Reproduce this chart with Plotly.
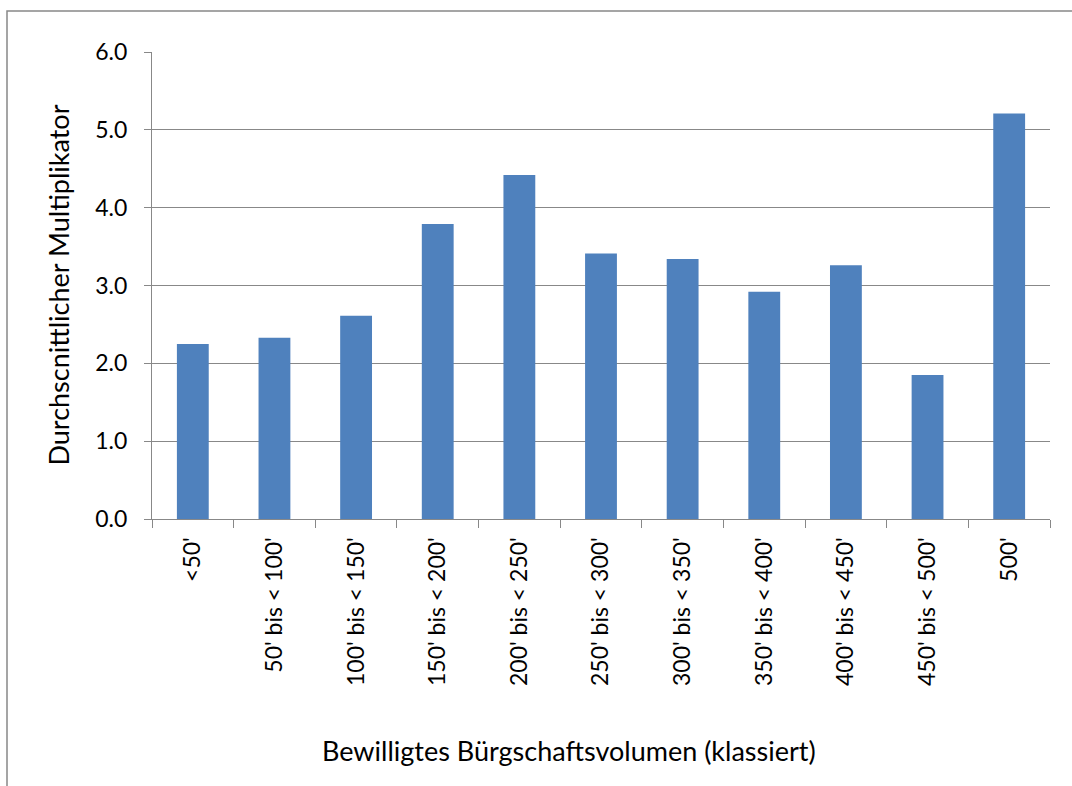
import plotly.graph_objects as go

categories = ["<50'", "50' bis < 100'", "100' bis < 150'", "150' bis < 200'", "200' bis < 250'",
              "250' bis < 300'", "300' bis < 350'", "350' bis < 400'", "400' bis < 450'",
              "450' bis < 500'", "500'"]
values = [2.25, 2.33, 2.61, 3.79, 4.42, 3.41, 3.34, 2.92, 3.26, 1.85, 5.21]
y_ticks = [0, 1, 2, 3, 4, 5, 6]

W, H = 1072, 786
L, R, T, B = 152, 1050, 52, 519
pw, ph = R - L, B - T

FONT = "Lato"
GRAY = "#888888"

fig = go.Figure(go.Bar(x=categories, y=values, marker_color="#4F81BD",
                       marker_line_width=0))

fig.update_layout(
    width=W, height=H,
    margin=dict(l=L, r=W - R, t=T, b=H - B, autoexpand=False),
    paper_bgcolor="white", plot_bgcolor="white",
    bargap=0.61, showlegend=False,
    font=dict(family=FONT, size=23, color="black"),
)
fig.update_yaxes(range=[0, 6], tickvals=y_ticks, tickformat=".1f",
                 showgrid=True, gridcolor=GRAY, gridwidth=1,
                 showline=True, linecolor=GRAY, linewidth=1,
                 ticks="outside", ticklen=7, tickcolor=GRAY,
                 tickfont=dict(size=23), zeroline=False, ticklabelstandoff=12)
fig.update_xaxes(showline=True, linecolor=GRAY, linewidth=1,
                 ticks="outside", ticklen=8, tickcolor=GRAY, tickson="boundaries",
                 tickangle=-90, tickfont=dict(size=23), showgrid=False,
                 ticklabelstandoff=8)

fig.add_annotation(text="Durchscnittlicher Multiplikator", xref="paper", yref="paper",
                   x=(58 - L) / pw, y=0.5, textangle=-90, showarrow=False,
                   font=dict(size=27), xanchor="center", yanchor="middle")
fig.add_annotation(text="Bewilligtes Bürgschaftsvolumen (klassiert)", xref="paper", yref="paper",
                   x=(569 - L) / pw, y=(B - 750) / ph, showarrow=False,
                   font=dict(size=27), xanchor="center", yanchor="middle")

fig.add_shape(type="rect", xref="paper", yref="paper",
              x0=(7 - L) / pw, x1=(1090 - L) / pw, y0=(B - 800) / ph, y1=(B - 11) / ph,
              line=dict(color=GRAY, width=1.5), fillcolor="rgba(0,0,0,0)", layer="below")

fig.write_html("out.html", config={"displayModeBar": False},
               post_script="document.body.style.margin='0px';document.body.style.overflow='hidden';")
